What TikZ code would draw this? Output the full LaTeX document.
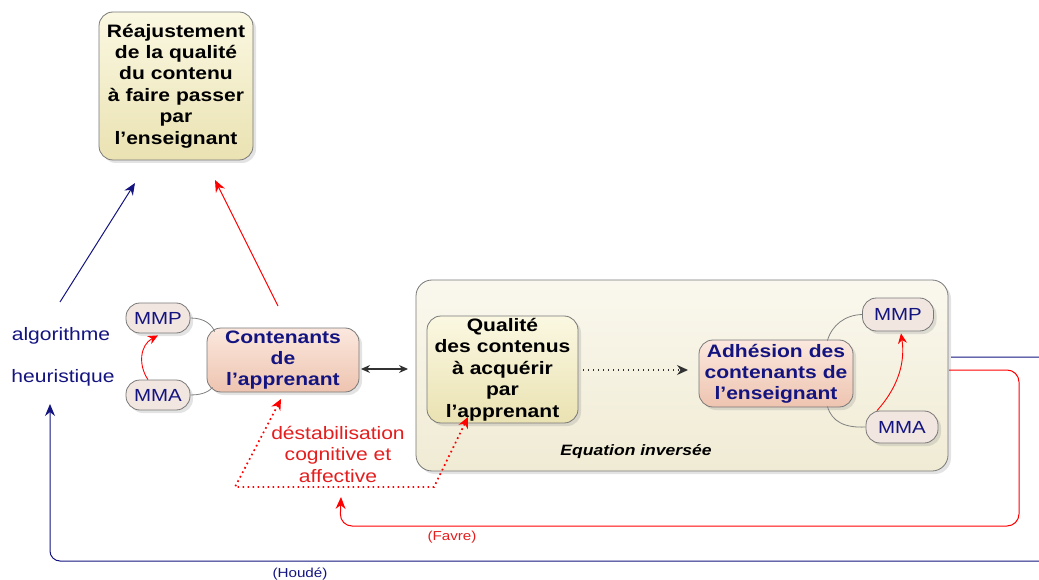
\documentclass[tikz,border=0pt]{standalone}
\usepackage{fontspec}
\setmainfont[FakeStretch=1.17]{Liberation Sans}
\usetikzlibrary{arrows.meta,shadows,calc}
\definecolor{navyc}{RGB}{20,20,128}
\definecolor{bordergray}{RGB}{120,120,120}
\definecolor{ytop}{RGB}{251,248,226}
\definecolor{ybot}{RGB}{234,226,178}
\definecolor{ptop}{RGB}{251,232,222}
\definecolor{pbot}{RGB}{238,196,176}
\definecolor{mmfill}{RGB}{242,230,224}
\definecolor{bigtop}{RGB}{250,248,238}
\definecolor{bigbot}{RGB}{240,235,212}
\definecolor{redtxt}{RGB}{228,30,30}
\definecolor{darkarrow}{RGB}{50,50,50}
\begin{document}
\begin{tikzpicture}[x=1pt,y=-1pt,
  shadowed/.style={drop shadow={opacity=0.22,shadow xshift=3pt,shadow yshift=-3pt}},
  basebox/.style={draw=bordergray,line width=0.8pt,rounded corners=14pt,align=center,inner sep=2pt,shadowed},
  ybox/.style={basebox,top color=ytop,bottom color=ybot,text=black,font=\bfseries\fontsize{18}{21.4}\selectfont},
  pbox/.style={basebox,top color=ptop,bottom color=pbot,text=navyc,font=\bfseries\fontsize{18}{21}\selectfont},
  bigbox/.style={basebox,top color=bigtop,bottom color=bigbot,rounded corners=16pt},
  mmbox/.style={draw=bordergray,line width=0.8pt,rounded corners=14pt,fill=mmfill,text=navyc,
    font=\fontsize{17.5}{20}\selectfont,inner sep=0pt,shadowed},
  bluearrow/.style={draw=navyc,line width=1pt,-{Stealth[length=12pt,width=10pt]}},
  redarrow/.style={draw=red,line width=1pt,-{Stealth[length=12pt,width=10pt]}},
  graylink/.style={draw=gray,line width=0.8pt},
  reddot/.style={draw=red,line width=1.7pt,dash pattern=on 1.7pt off 3.3pt,
    {Stealth[length=11pt,width=10pt]}-{Stealth[length=11pt,width=10pt]}},
  bluetxt/.style={text=navyc,font=\fontsize{18}{21}\selectfont},
  redtext/.style={text=redtxt,font=\fontsize{18}{21.5}\selectfont,align=center},
  smalltxt/.style={font=\fontsize{13}{15}\selectfont}
]
\useasboundingbox (0,0) rectangle (1039,580);

% boxes
\node[ybox,minimum width=152pt,minimum height=148pt,text width=150pt] (rea) at (176,86)
  {Réajustement\\de la qualité\\du contenu\\à faire passer\\par\\l’enseignant};
\node[bigbox,minimum width=532pt,minimum height=191pt] (eq) at (682,375.5) {};
\node[font=\bfseries\itshape\fontsize{15}{17}\selectfont] (eqt) at (636,452) {Equation inversée};
\node[pbox,minimum width=150pt,minimum height=64pt,text width=148pt] (cont) at (283,360)
  {Contenants\\de\\l’apprenant};
\node[ybox,minimum width=149pt,minimum height=107pt,text width=147pt] (qual) at (502.5,369.5)
  {Qualité\\des contenus\\à acquérir\\par\\l’apprenant};
\node[pbox,minimum width=152pt,minimum height=67pt,text width=150pt] (adh) at (776,373.5)
  {Adhésion des\\contenants de\\l’enseignant};
\node[mmbox,minimum width=64pt,minimum height=30pt] (mmpL) at (158,318) {MMP};
\node[mmbox,minimum width=64pt,minimum height=30pt] (mmaL) at (158,395) {MMA};
\node[mmbox,minimum width=71pt,minimum height=33pt] (mmpR) at (898,314.5) {MMP};
\node[mmbox,minimum width=72pt,minimum height=32pt] (mmaR) at (902,427) {MMA};

% texts
\node[bluetxt] (algo) at (61,336) {algorithme};
\node[bluetxt] (heur) at (63,378) {heuristique};
\node[redtext] (dest) at (338,454) {déstabilisation\\cognitive et\\affective};
\node[smalltxt,text=redtxt] (favre) at (452,537) {(Favre)};
\node[smalltxt,text=navyc] (houde) at (300,574) {(Houdé)};

% coordinates
\coordinate (b0) at (60,302);
\coordinate (b1) at (135,183);
\coordinate (r0) at (278,306);
\coordinate (r1) at (215,180);
\coordinate (d0) at (361,369);
\coordinate (d1) at (408,369);
\coordinate (q0) at (583,370);
\coordinate (q1) at (688,370);
\coordinate (tA) at (281,399);
\coordinate (c1) at (235,487);
\coordinate (c2) at (434,487);
\coordinate (tB) at (468,417);
\coordinate (f0) at (949,370);
\coordinate (f1) at (1019,370);
\coordinate (f2) at (1019,526);
\coordinate (f3) at (340,526);
\coordinate (f4) at (341,497);
\coordinate (h0) at (951,357);
\coordinate (h1) at (1070,357);
\coordinate (h2) at (1070,561);
\coordinate (h3) at (50,561);
\coordinate (h4) at (50,404);

% arrows to top box
\draw[bluearrow] (b0) -- (b1);
\draw[redarrow] (r0) -- (r1);

% gray links
\draw[graylink] (mmpL.east) .. controls (205,318) and (212,325) .. ($(cont.north west)+(8,4)$);
\draw[graylink] (mmaL.east) .. controls (205,395) and (210,390) .. ($(cont.south west)+(6,-5)$);
\draw[graylink] ($(adh.north east)+(-26,1)$) .. controls (832,325) and (845,315) .. (mmpR.west);
\draw[graylink] ($(adh.south east)+(-26,-1)$) .. controls (832,422) and (845,428) .. (mmaR.west);

% red MMA->MMP
\draw[redarrow,line width=0.9pt,-{Stealth[length=10pt,width=9pt]}] ($(mmaL.north)+(-10,0)$) .. controls (138,365) and (140,345) .. ($(mmpL.south)+(0,2)$);
\draw[redarrow,line width=0.9pt,-{Stealth[length=10pt,width=9pt]}] ($(mmaR.north)+(-25,0)$) .. controls (900,385) and (905,360) .. ($(mmpR.south)+(3,2)$);

% double arrow and dotted arrow
\draw[darkarrow,line width=1.2pt,{Stealth[length=9pt,width=8pt]}-{Stealth[length=9pt,width=8pt]}] (d0) -- (d1);
\draw[darkarrow,line width=1.4pt,dash pattern=on 1.4pt off 3.6pt,-{Stealth[length=11pt,width=10pt]}] (q0) -- (q1);

% red dotted
\draw[reddot] (tA) -- (c1) -- (c2) -- (tB);

% Favre
\draw[redarrow,rounded corners=12pt] (f0) -- (f1) -- (f2) -- (f3) -- (f4);
% Houde
\draw[bluearrow,rounded corners=10pt] (h0) -- (h1) -- (h2) -- (h3) -- (h4);
\end{tikzpicture}
\end{document}
